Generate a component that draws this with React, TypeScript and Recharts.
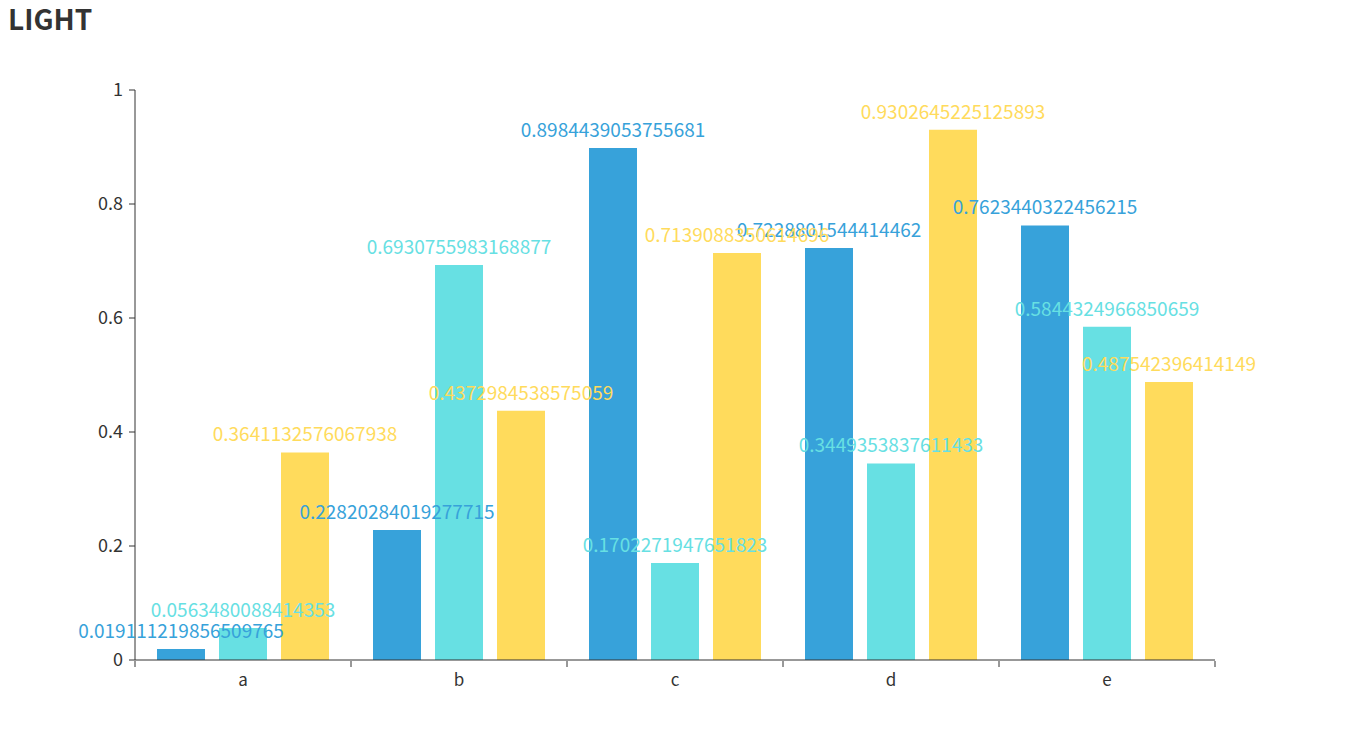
import React from 'react';
import { BarChart, Bar, XAxis, YAxis, LabelList } from 'recharts';

const categories = ['a', 'b', 'c', 'd', 'e'];
const series1 = [0.019111219856509765, 0.22820284019277714, 0.8984439053755681, 0.7228801544414462, 0.7623440322456215];
const series2 = [0.0563480088414353, 0.6930755983168877, 0.1702271947651823, 0.3449353837611433, 0.5844324966850659];
const series3 = [0.3641132576067938, 0.4372984538575059, 0.7139088350614696, 0.9302645225125893, 0.487542396414149];
const yTicks = [0, 0.2, 0.4, 0.6, 0.8, 1];
const edgeTicks = [0, 1, 2, 3, 4, 5];

const FONT = '"Noto Sans CJK SC", "Noto Sans", sans-serif';
const COLORS = ['#37A2DA', '#67E0E3', '#FFDB5C'];

const data = categories.map((name, i) => ({
  name,
  idx: i + 0.5,
  s1: series1[i],
  s2: series2[i],
  s3: series3[i],
}));

export default function App() {
  const keys = ['s1', 's2', 's3'];
  return (
    <div style={{ position: 'absolute', left: 0, top: 0, width: 1350, height: 750, background: '#fff', fontFamily: FONT }}>
      <div style={{ position: 'absolute', left: 8, top: 4, fontSize: 28, lineHeight: '28px', fontWeight: 'bold', color: '#333' }}>LIGHT</div>
      <BarChart
        width={1350}
        height={750}
        data={data}
        margin={{ top: 90, right: 135, bottom: 60, left: 0 }}
        barCategoryGap={22}
        barGap={14}
      >
        {/* category labels sit on the plot's bottom edge */}
        <XAxis
          dataKey="name"
          axisLine={{ stroke: '#333' }}
          tickLine={false}
          tickSize={12}
          tick={{ fill: '#333', fontSize: 17, fontFamily: FONT }}
          height={1}
        />
        {/* tick marks between categories */}
        <XAxis
          xAxisId="edges"
          dataKey="idx"
          type="number"
          domain={[0, 5]}
          ticks={edgeTicks}
          allowDataOverflow
          axisLine={false}
          tickLine={{ stroke: '#333' }}
          tickSize={6}
          tickFormatter={() => ''}
          height={29}
        />
        <YAxis
          domain={[0, 1]}
          ticks={yTicks}
          width={135}
          axisLine={{ stroke: '#333' }}
          tickLine={{ stroke: '#333' }}
          tickSize={6}
          tickMargin={6}
          tick={{ fill: '#333', fontSize: 18, fontFamily: FONT }}
          tickFormatter={(v: number) => String(v)}
        />
        {keys.map((k, i) => (
          <Bar key={k} dataKey={k} fill={COLORS[i]} isAnimationActive={false}>
            <LabelList dataKey={k} position="top" offset={11} fill={COLORS[i]} fontSize={19} fontFamily={FONT} />
          </Bar>
        ))}
      </BarChart>
    </div>
  );
}
